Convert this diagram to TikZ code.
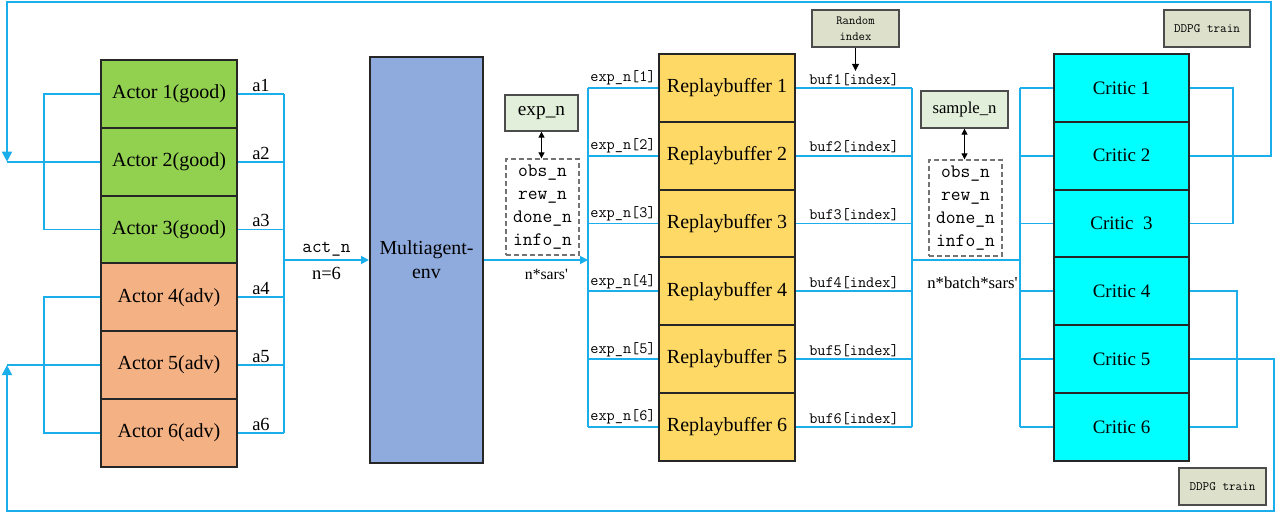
\documentclass[tikz,border=0pt]{standalone}
\usepackage{fontspec}
\setmainfont{Liberation Serif}
\usetikzlibrary{arrows.meta}

\definecolor{linkblue}{HTML}{1AAEEB}
\definecolor{goodgreen}{HTML}{92D050}
\definecolor{advorange}{HTML}{F4B183}
\definecolor{envblue}{HTML}{8FAADC}
\definecolor{bufyellow}{HTML}{FFD966}
\definecolor{criticcyan}{HTML}{00FFFF}
\definecolor{notegreen}{HTML}{E2EFDA}
\definecolor{notegray}{HTML}{DDE1CB}

\begin{document}
\begin{tikzpicture}[x=1pt,y=-1pt,
  cell/.style={draw=black!85, line width=2pt, minimum width=136pt, minimum height=67.8pt,
    inner sep=0pt, font=\fontsize{20}{24}\selectfont},
  link/.style={draw=linkblue, line width=1.8pt},
  tip/.style={-{Triangle[length=8pt,width=8pt]}},
  note/.style={draw=black!70, line width=1.3pt, inner sep=0pt},
  dbox/.style={draw=black!55, dashed, dash pattern=on 5pt off 3pt, line width=1.3pt,
    minimum width=73pt, minimum height=96pt, inner sep=0pt, align=center,
    font=\ttfamily\fontsize{19}{23}\selectfont},
  dbl/.style={black, line width=1pt, {Triangle[length=6pt,width=6pt]}-{Triangle[length=6pt,width=6pt]}},
  lab/.style={inner sep=1.5pt, font=\fontsize{18.5}{20}\selectfont},
  tlab/.style={inner sep=1.5pt, font=\ttfamily\fontsize{15.8}{18}\selectfont}]

 \useasboundingbox (0,0) rectangle (1276,513);

 % actors
 \node[cell, fill=goodgreen] (act1) at (169,93.9) {Actor 1(good)};
 \node[cell, fill=goodgreen] (act2) at (169,161.7) {Actor 2(good)};
 \node[cell, fill=goodgreen] (act3) at (169,229.5) {Actor 3(good)};
 \node[cell, fill=advorange] (act4) at (169,297.3) {Actor 4(adv)};
 \node[cell, fill=advorange] (act5) at (169,365.1) {Actor 5(adv)};
 \node[cell, fill=advorange] (act6) at (169,432.9) {Actor 6(adv)};

 % environment
 \node[draw=black!85, line width=2pt, fill=envblue, minimum width=113pt, minimum height=406pt,
   align=center, font=\fontsize{19.9}{24}\selectfont] (env) at (426.5,260) {Multiagent-\\env};

 % replay buffers
 \node[cell, fill=bufyellow] (buf1) at (727,87.9) {Replaybuffer 1};
 \node[cell, fill=bufyellow] (buf2) at (727,155.7) {Replaybuffer 2};
 \node[cell, fill=bufyellow] (buf3) at (727,223.5) {Replaybuffer 3};
 \node[cell, fill=bufyellow] (buf4) at (727,291.3) {Replaybuffer 4};
 \node[cell, fill=bufyellow] (buf5) at (727,359.1) {Replaybuffer 5};
 \node[cell, fill=bufyellow] (buf6) at (727,426.9) {Replaybuffer 6};

 % critics
 \node[cell, fill=criticcyan, minimum width=135pt, font=\fontsize{19}{24}\selectfont] (crit1) at (1121.5,87.9) {Critic 1};
 \node[cell, fill=criticcyan, minimum width=135pt, font=\fontsize{19}{24}\selectfont] (crit2) at (1121.5,155.7) {Critic 2};
 \node[cell, fill=criticcyan, minimum width=135pt, font=\fontsize{19}{24}\selectfont] (crit3) at (1121.5,223.5) {Critic\ \ 3};
 \node[cell, fill=criticcyan, minimum width=135pt, font=\fontsize{19}{24}\selectfont] (crit4) at (1121.5,291.3) {Critic 4};
 \node[cell, fill=criticcyan, minimum width=135pt, font=\fontsize{19}{24}\selectfont] (crit5) at (1121.5,359.1) {Critic 5};
 \node[cell, fill=criticcyan, minimum width=135pt, font=\fontsize{19}{24}\selectfont] (crit6) at (1121.5,426.9) {Critic 6};

 % notes
 \node[note, fill=notegreen, minimum width=73pt, minimum height=36pt,
   font=\fontsize{19.3}{22}\selectfont] (expn) at (541.5,113) {exp\_n};
 \node[dbox] (expd) at (542.5,207) {obs\_n\\rew\_n\\done\_n\\info\_n};
 \node[note, fill=notegreen, minimum width=87pt, minimum height=37pt,
   font=\fontsize{16.7}{20}\selectfont] (smpn) at (964.5,109.5) {sample\_n};
 \node[dbox] (smpd) at (965.5,208) {obs\_n\\rew\_n\\done\_n\\info\_n};
 \node[note, fill=notegray, minimum width=87pt, minimum height=37pt, align=center,
   font=\ttfamily\fontsize{12.4}{16}\selectfont] (rnd) at (855.5,28.5) {Random\\index};
 \node[note, fill=notegray, minimum width=86pt, minimum height=37pt,
   font=\ttfamily\fontsize{12.8}{14}\selectfont] (ddpgA) at (1207,28.5) {DDPG train};
 \node[note, fill=notegray, minimum width=87pt, minimum height=37pt,
   font=\ttfamily\fontsize{12.8}{14}\selectfont] (ddpgB) at (1222.5,486.5) {DDPG train};

 % bus positions
 \coordinate (loopA) at (44,0);
 \coordinate (busA) at (284,0);
 \coordinate (busB) at (588,0);
 \coordinate (busC) at (912,0);
 \coordinate (busD) at (1020,0);
 \coordinate (loopU) at (1233,0);
 \coordinate (loopD) at (1237,0);
 \coordinate (fbL) at (7,2);
 \coordinate (fbT) at (1271,2);
 \coordinate (fbB) at (1274,511);

 % actions
 \draw[link] (act1.east) -- (act1.east -| busA) node[midway, above, lab] {a1};
 \draw[link] (act2.east) -- (act2.east -| busA) node[midway, above, lab] {a2};
 \draw[link] (act3.east) -- (act3.east -| busA) node[midway, above, lab] {a3};
 \draw[link] (act4.east) -- (act4.east -| busA) node[midway, above, lab] {a4};
 \draw[link] (act5.east) -- (act5.east -| busA) node[midway, above, lab] {a5};
 \draw[link] (act6.east) -- (act6.east -| busA) node[midway, above, lab] {a6};
 \draw[link] (act1.east -| busA) -- (act6.east -| busA);
 \draw[link, tip] (env.west -| busA) -- (env.west)
   node[midway, above, inner sep=3pt, font=\ttfamily\fontsize{18.7}{20}\selectfont] {act\_n}
   node[midway, below, lab, inner sep=6pt] {n=6};

 % actor groups
 \draw[link] (act1.west) -- (act1.west -| loopA) -- (act3.west -| loopA) -- (act3.west);
 \draw[link] (act2.west) -- (act2.west -| fbL);
 \draw[link] (act4.west) -- (act4.west -| loopA) -- (act6.west -| loopA) -- (act6.west);
 \draw[link] (act5.west) -- (act5.west -| fbL);

 % experience
 \draw[link, tip] (env.east) -- (env.east -| busB)
   node[pos=0.6, below, inner sep=8pt, font=\fontsize{15.7}{18}\selectfont] {n*sars\textquotesingle};
 \draw[link] (buf1.west -| busB) -- (buf1.west) node[midway, above, tlab] {exp\_n[1]};
 \draw[link] (buf2.west -| busB) -- (buf2.west) node[midway, above, tlab] {exp\_n[2]};
 \draw[link] (buf3.west -| busB) -- (buf3.west) node[midway, above, tlab] {exp\_n[3]};
 \draw[link] (buf4.west -| busB) -- (buf4.west) node[midway, above, tlab] {exp\_n[4]};
 \draw[link] (buf5.west -| busB) -- (buf5.west) node[midway, above, tlab] {exp\_n[5]};
 \draw[link] (buf6.west -| busB) -- (buf6.west) node[midway, above, tlab] {exp\_n[6]};
 \draw[link] (buf1.west -| busB) -- (buf6.west -| busB);
 \draw[dbl] (expn.south) -- (expn.south |- expd.north);

 % sampling
 \draw[link] (buf1.east) -- (buf1.east -| busC) node[midway, above, tlab] (bufl1) {buf1[index]};
 \draw[link] (buf2.east) -- (buf2.east -| busC) node[midway, above, tlab] (bufl2) {buf2[index]};
 \draw[link] (buf3.east) -- (buf3.east -| busC) node[midway, above, tlab] (bufl3) {buf3[index]};
 \draw[link] (buf4.east) -- (buf4.east -| busC) node[midway, above, tlab] (bufl4) {buf4[index]};
 \draw[link] (buf5.east) -- (buf5.east -| busC) node[midway, above, tlab] (bufl5) {buf5[index]};
 \draw[link] (buf6.east) -- (buf6.east -| busC) node[midway, above, tlab] (bufl6) {buf6[index]};
 \draw[link] (buf1.east -| busC) -- (buf6.east -| busC);
 \draw[black, line width=1pt, -{Triangle[length=7pt,width=7pt]}] (rnd.south) -- (rnd.south |- bufl1.north);
 \draw[link] (env.east -| busC) -- (env.east -| busD)
   node[pos=0.56, below, inner sep=16pt, font=\fontsize{16.7}{18}\selectfont] {n*batch*sars\textquotesingle};
 \draw[dbl] (smpn.south) -- (smpn.south |- smpd.north);

 % critics in
 \draw[link] (crit1.west -| busD) -- (crit1.west);
 \draw[link] (crit2.west -| busD) -- (crit2.west);
 \draw[link] (crit3.west -| busD) -- (crit3.west);
 \draw[link] (crit4.west -| busD) -- (crit4.west);
 \draw[link] (crit5.west -| busD) -- (crit5.west);
 \draw[link] (crit6.west -| busD) -- (crit6.west);
 \draw[link] (crit1.west -| busD) -- (crit6.west -| busD);

 % DDPG train feedback
 \draw[link] (crit1.east) -- (crit1.east -| loopU) -- (crit3.east -| loopU) -- (crit3.east);
 \draw[link] (crit2.east) -- (crit2.east -| loopU);
 \draw[link] (crit4.east) -- (crit4.east -| loopD) -- (crit6.east -| loopD) -- (crit6.east);
 \draw[link] (crit5.east) -- (crit5.east -| loopD);
 \draw[link, -{Triangle[length=10pt,width=10pt]}] (crit2.east -| loopU) -| (fbT) -| (act2.west -| fbL);
 \draw[link, -{Triangle[length=10pt,width=10pt]}] (crit5.east -| loopD) -| (fbB) -| (act5.west -| fbL);

\end{tikzpicture}
\end{document}
